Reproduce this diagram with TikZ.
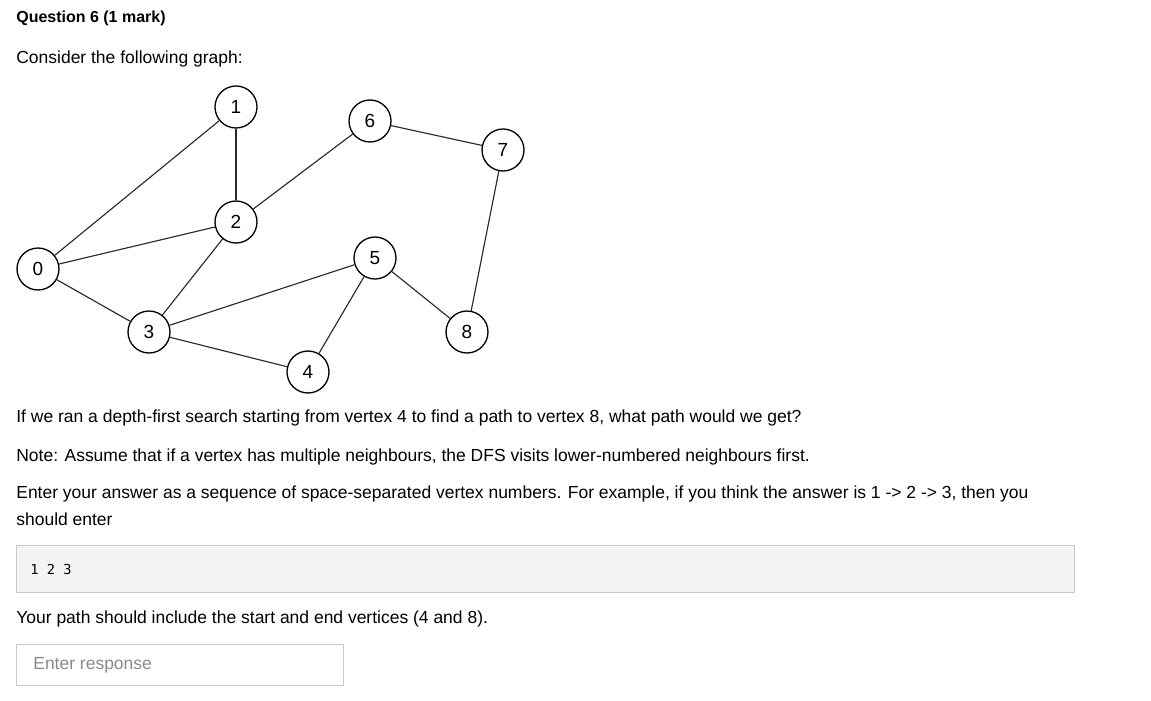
\documentclass[tikz,border=0pt]{standalone}
\usepackage{fontspec}
\setmainfont{Liberation Sans}
\setmonofont{DejaVu Sans Mono}
\definecolor{boxgray}{HTML}{F4F4F4}
\definecolor{rulegray}{HTML}{C8C8C8}
\definecolor{hintgray}{HTML}{8A8A8A}
\definecolor{edgegray}{HTML}{2A2A2A}

\begin{document}
\begin{tikzpicture}[x=0.02cm, y=-0.02cm,
		vertex/.style={draw, circle, fill=white, line width=0.75pt, minimum size=0.84cm, inner sep=0pt, font=\fontsize{10.8}{12}\selectfont},
		txt/.style={anchor=west, inner sep=0pt, font=\fontsize{9.95}{12}\selectfont},
		edge/.style={draw=edgegray, line width=0.65pt}]
	\useasboundingbox (0, 0) rectangle (1151, 700);

	\node[txt, font=\fontsize{9.1}{11}\selectfont\bfseries] (title) at (16, 18) {Question 6 (1 mark)};
	\node[txt] (intro) at (16, 59) {Consider the following graph:};

	\node[vertex] (v0) at (38, 269) {0};
	\node[vertex] (v1) at (236, 107) {1};
	\node[vertex] (v2) at (236, 222) {2};
	\node[vertex] (v3) at (149, 332) {3};
	\node[vertex] (v4) at (308, 372) {4};
	\node[vertex] (v5) at (375, 258) {5};
	\node[vertex] (v6) at (370, 121) {6};
	\node[vertex] (v7) at (503, 150) {7};
	\node[vertex] (v8) at (467, 332) {8};

	\foreach \a/\b in {0/1, 0/2, 0/3, 1/2, 2/3, 2/6, 3/5, 3/4, 4/5, 5/8, 6/7, 7/8} {
			\draw[edge] (v\a) -- (v\b);
		}

	\node[txt] (ask) at (16, 418) {If we ran a depth-first search starting from vertex 4 to find a path to vertex 8, what path would we get?};
	\node[txt] (note) at (16, 457) {Note: Assume that if a vertex has multiple neighbours, the DFS visits lower-numbered neighbours first.};
	\node[txt] (enter) at (16, 494) {Enter your answer as a sequence of space-separated vertex numbers. For example, if you think the answer is 1 -> 2 -> 3, then you};
	\node[txt] (should) at (16, 519) {should enter};

	\draw[rulegray, fill=boxgray, line width=0.5pt] (16, 545) rectangle (1074, 592);
	\node[txt, font=\fontsize{7.8}{9}\ttfamily] (sample) at (30, 569) {1 2 3};

	\node[txt] (include) at (16, 619) {Your path should include the start and end vertices (4 and 8).};

	\draw[rulegray, line width=0.5pt] (16, 644) rectangle (343, 685);
	\node[txt, text=hintgray] (response) at (33, 665) {Enter response};
\end{tikzpicture}
\end{document}
